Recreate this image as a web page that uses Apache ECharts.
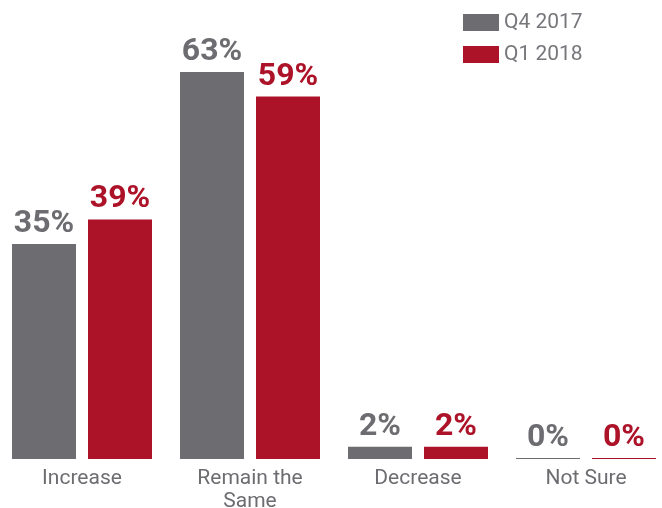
<!DOCTYPE html>
<html>
<head>
<meta charset="utf-8">
<script src="https://cdn.jsdelivr.net/npm/echarts@6/dist/echarts.min.js"></script>
<style>
  html, body { margin: 0; padding: 0; background: #fff; }
  #chart { width: 662px; height: 508px; }
</style>
</head>
<body>
<div id="chart"></div>
<script>
// Survey answers by quarter (percent of respondents)
const categories = ['Increase', 'Remain the\nSame', 'Decrease', 'Not Sure'];
const seriesNames = ['Q4 2017', 'Q1 2018'];
const q4_2017 = [35, 63, 2, 0];
const q1_2018 = [39, 59, 2, 0];

const GREY = '#6d6c71';
const RED = '#ad1328';
const FONT = 'Roboto';

const chart = echarts.init(document.getElementById('chart'), null, { renderer: 'canvas' });

function barSeries(name, values, color) {
  return {
    name: name,
    type: 'bar',
    data: values,
    barWidth: 64,
    barGap: '18.75%',
    barMinHeight: 1,
    itemStyle: { color: color },
    label: {
      show: true,
      position: 'top',
      distance: 4,
      formatter: '{c}%',
      color: color,
      fontFamily: FONT,
      fontWeight: 'bold',
      fontSize: 32
    }
  };
}

chart.setOption({
  animation: false,
  legend: {
    orient: 'vertical',
    left: 463,
    top: 12,
    padding: 0,
    itemWidth: 36,
    itemHeight: 17,
    itemGap: 11,
    icon: 'rect',
    textStyle: { color: '#77767b', fontFamily: FONT, fontSize: 21, lineHeight: 17 },
    data: seriesNames
  },
  grid: { left: -2, right: -8, top: 29, bottom: 49, containLabel: false, outerBoundsMode: 'none' },
  xAxis: {
    type: 'category',
    data: categories,
    axisLine: { show: false },
    axisTick: { show: false },
    axisLabel: {
      interval: 0,
      margin: 8,
      color: GREY,
      fontFamily: FONT,
      fontSize: 21,
      lineHeight: 23
    }
  },
  yAxis: {
    type: 'value',
    min: 0,
    max: 70,
    show: false,
    splitLine: { show: false }
  },
  series: [
    barSeries(seriesNames[0], q4_2017, GREY),
    barSeries(seriesNames[1], q1_2018, RED)
  ]
});
</script>
</body>
</html>
